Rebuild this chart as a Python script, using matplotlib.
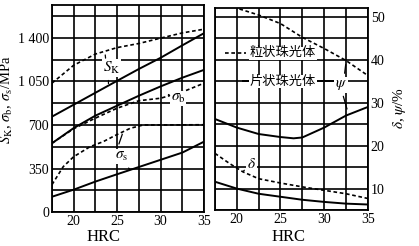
import matplotlib.pyplot as plt
from matplotlib.ticker import MultipleLocator

plt.rcParams['font.family'] = ['Liberation Serif', 'Noto Sans CJK SC', 'DejaVu Sans']
plt.rcParams['mathtext.fontset'] = 'stix'

hrc = [17.5, 20, 22.5, 25, 27.5, 30, 32.5, 35]

# left panel, strength in MPa
sk_gran = [1036, 1180, 1270, 1322, 1355, 1398, 1440, 1470]
sk_lam = [767, 863, 959, 1055, 1150, 1240, 1340, 1438]
sb_gran = [553, 670, 755, 835, 895, 915, 965, 1036]
sb_lam = [553, 675, 775, 855, 935, 1010, 1080, 1143]
ss_gran_x = [17.5, 18.8, 20, 21.9, 23.4, 24.9, 26.5, 28, 30, 35]
ss_gran = [220, 365, 445, 526, 566, 620, 673, 700, 700, 702]
ss_lam = [123, 180, 245, 304, 362, 420, 478, 566]

# right panel, plasticity in %
psi_gran_x = [20.3, 22.5, 25, 27.5, 30, 32.5, 35]
psi_gran = [51.8, 50.4, 48.4, 45.2, 42.6, 39.8, 36.3]
psi_lam_x = [17.5, 20, 22.5, 25, 26.5, 27.5, 30, 32.5, 35]
psi_lam = [26.2, 24.2, 22.7, 22.0, 21.7, 21.9, 24.2, 27.0, 29.0]
delta_gran_x = [17.5, 19.2, 20.7, 22.5, 25, 27.5, 30, 32.5, 35]
delta_gran = [18.2, 15.8, 13.9, 12.3, 11.3, 10.4, 9.6, 8.8, 7.7]
delta_lam = [11.6, 10.0, 8.8, 8.1, 7.4, 6.9, 6.5, 6.3]

left_ticks = [0, 350, 700, 1050, 1400]
left_labels = ['0', '350', '700', '1 050', '1 400']
right_ticks = [10, 20, 30, 40, 50]
x_ticks = [20, 25, 30, 35]

dot = (0, (2.2, 1.6))
lw = 1.4
white = dict(facecolor='white', edgecolor='none', pad=0.5)

fig = plt.figure(figsize=(4.19, 2.46), dpi=100)
ax1 = fig.add_axes([0.124, 0.138, 0.363, 0.842])
ax2 = fig.add_axes([0.513, 0.146, 0.365, 0.821])

for ax in (ax1, ax2):
    ax.set_xlim(17.5, 35)
    ax.set_xticks(x_ticks)
    ax.xaxis.set_minor_locator(MultipleLocator(2.5))
    ax.grid(which='both', color='black', lw=1.2)
    ax.set_axisbelow(True)
    ax.tick_params(which='both', length=0, labelsize=10, pad=2)
    for s in ax.spines.values():
        s.set_linewidth(1.3)
    ax.set_xlabel('HRC', fontsize=12, va='bottom')

# left panel
ax1.plot(hrc, sk_gran, color='black', lw=1.2, ls=dot)
ax1.plot(hrc, sk_lam, color='black', lw=lw)
ax1.plot(hrc, sb_gran, color='black', lw=1.2, ls=dot)
ax1.plot(hrc, sb_lam, color='black', lw=lw)
ax1.plot(ss_gran_x, ss_gran, color='black', lw=1.2, ls=dot)
ax1.plot(hrc, ss_lam, color='black', lw=lw)
ax1.set_ylim(0, 1665)
ax1.set_yticks(left_ticks, left_labels)
ax1.yaxis.set_minor_locator(MultipleLocator(175))
ax1.set_ylabel(r'$S_{\rm K}$, $\sigma_{\rm b}$, $\sigma_{\rm s}$/MPa', fontsize=10.5)
ax1.yaxis.set_label_coords(-0.245, 0.54)
ax1.xaxis.set_label_coords(0.34, -0.157)

ax1.text(24.4, 1156, r'$S_{\rm K}$', fontsize=11, ha='center', va='center', bbox=white)
ax1.annotate('', xy=(23.6, 1285), xytext=(23.7, 1215), arrowprops=dict(arrowstyle='-', lw=0.9))
ax1.annotate('', xy=(24.0, 1010), xytext=(24.0, 1080), arrowprops=dict(arrowstyle='-', lw=0.9))
ax1.text(32.0, 915, r'$\sigma_{\rm b}$', fontsize=11, ha='center', va='center', bbox=white)
ax1.annotate('', xy=(30.9, 945), xytext=(31.3, 925), arrowprops=dict(arrowstyle='-', lw=0.9))
ax1.text(25.5, 445, r'$\sigma_{\rm s}$', fontsize=11, ha='center', va='center', bbox=white)
ax1.annotate('', xy=(25.7, 647), xytext=(25.1, 526), arrowprops=dict(arrowstyle='-', lw=0.9))
ax1.annotate('', xy=(26.7, 325), xytext=(26.1, 370), arrowprops=dict(arrowstyle='-', lw=0.9))

# right panel
ax2.plot(psi_gran_x, psi_gran, color='black', lw=1.2, ls=dot)
ax2.plot(psi_lam_x, psi_lam, color='black', lw=lw)
ax2.plot(delta_gran_x, delta_gran, color='black', lw=1.2, ls=dot)
ax2.plot(hrc, delta_lam, color='black', lw=lw)
ax2.set_ylim(5, 52)
ax2.set_yticks(right_ticks)
ax2.yaxis.set_minor_locator(MultipleLocator(5))
ax2.yaxis.tick_right()
ax2.yaxis.set_label_position('right')
ax2.set_ylabel(r'$\delta$, $\psi$/%', fontsize=11)
ax2.yaxis.set_label_coords(1.15, 0.505)
ax2.xaxis.set_label_coords(0.48, -0.171)

ax2.text(25.3, 41.5, '粒状珠光体', fontsize=9.5, ha='center', va='center', bbox=white)
ax2.plot([0.064, 0.2], [0.78, 0.78], transform=ax2.transAxes, color='black', lw=1.2, ls=dot)
ax2.text(25.3, 34.9, '片状珠光体', fontsize=9.5, ha='center', va='center', bbox=white)
ax2.plot([0.185, 0.225], [0.64, 0.64], transform=ax2.transAxes, color='black', lw=lw)
ax2.plot([0.675, 0.77], [0.64, 0.64], transform=ax2.transAxes, color='black', lw=lw)
ax2.text(31.95, 34.1, r'$\psi$', fontsize=11, ha='center', va='center', bbox=white)
ax2.annotate('', xy=(32.5, 39.5), xytext=(32.3, 36.2), arrowprops=dict(arrowstyle='-', lw=0.9))
ax2.annotate('', xy=(32.7, 27.9), xytext=(32.1, 32.1), arrowprops=dict(arrowstyle='-', lw=0.9))
ax2.text(21.7, 15.8, r'$\delta$', fontsize=11, ha='center', va='center', bbox=white)
ax2.annotate('', xy=(20.5, 13.6), xytext=(21.1, 14.7), arrowprops=dict(arrowstyle='-', lw=0.9))

fig.savefig('out.png', dpi=100)
